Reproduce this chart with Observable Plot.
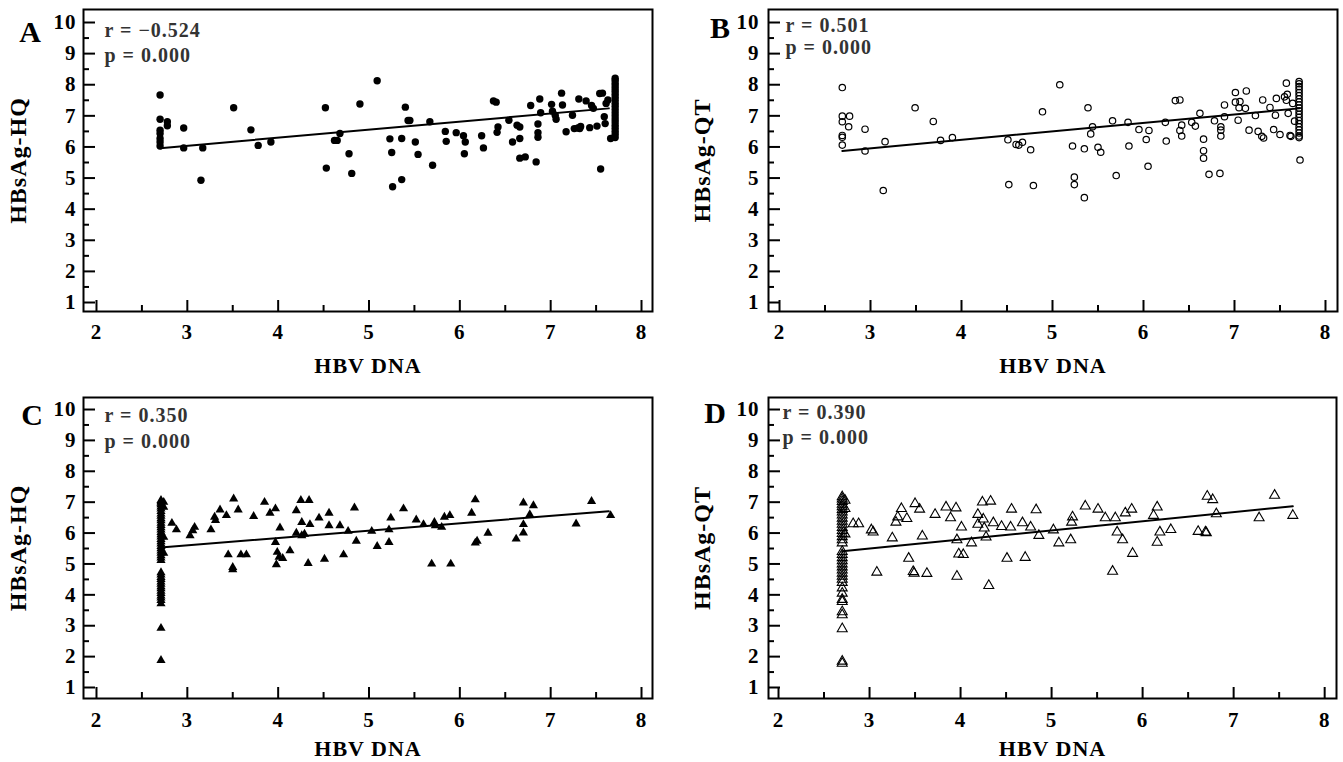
<!DOCTYPE html>
<html><head><meta charset="utf-8">
<script src="https://cdn.jsdelivr.net/npm/d3@7"></script>
<script src="https://cdn.jsdelivr.net/npm/@observablehq/plot@0.6"></script>
<style>
body{margin:0;background:#fff;}
#wrap{position:relative;width:1343px;height:762px;overflow:hidden;background:#fff;}
#wrap > svg{position:absolute;}
#wrap svg text{letter-spacing:1px;}
</style></head><body><div id="wrap"></div>
<script>
// ---------- data ----------
const xTicks = [2, 3, 4, 5, 6, 7, 8];
const xMinor = [2.5, 3.5, 4.5, 5.5, 6.5, 7.5];
const yTicks = [1, 2, 3, 4, 5, 6, 7, 8, 9, 10];
const yMinor = [1.5, 2.5, 3.5, 4.5, 5.5, 6.5, 7.5, 8.5, 9.5];
const xLabel = "HBV DNA";
const yLabels = ["HBsAg-HQ", "HBsAg-QT", "HBsAg-HQ", "HBsAg-QT"];
const panelLetters = ["A", "B", "C", "D"];
const rTexts = ["r = \u22120.524", "r = 0.501", "r = 0.350", "r = 0.390"];
const pTexts = ["p = 0.000", "p = 0.000", "p = 0.000", "p = 0.000"];

const pointsA = [[2.70,7.67],[2.70,6.89],[2.70,6.54],[2.70,6.43],[2.70,6.27],[2.70,6.16],[2.70,6.03],[2.78,6.81],[2.78,6.68],[2.96,6.61],[2.96,5.97],[3.17,5.97],[3.15,4.93],[3.51,7.26],[3.70,6.55],[3.78,6.05],[3.92,6.16],[4.52,7.26],[4.53,5.32],[4.62,6.21],[4.65,6.21],[4.68,6.43],[4.78,5.78],[4.81,5.15],[4.90,7.38],[5.09,8.13],[5.23,6.26],[5.25,5.82],[5.26,4.72],[5.36,6.27],[5.36,4.95],[5.40,7.28],[5.43,6.85],[5.45,6.85],[5.51,6.16],[5.54,5.76],[5.67,6.81],[5.70,5.41],[5.84,6.50],[5.85,6.18],[5.96,6.46],[6.04,6.36],[6.05,5.78],[6.06,6.16],[6.24,6.36],[6.26,5.97],[6.37,7.48],[6.40,7.44],[6.41,6.47],[6.42,6.64],[6.54,6.86],[6.58,6.16],[6.63,6.70],[6.66,6.64],[6.66,6.27],[6.66,5.64],[6.72,5.68],[6.78,7.33],[6.84,5.52],[6.86,6.74],[6.86,6.46],[6.86,6.31],[6.88,7.54],[6.89,7.10],[7.01,7.37],[7.02,7.15],[7.05,7.02],[7.06,6.89],[7.12,7.73],[7.13,7.35],[7.17,6.49],[7.24,7.02],[7.26,6.59],[7.30,6.61],[7.32,6.59],[7.31,7.54],[7.33,6.66],[7.39,7.48],[7.43,6.62],[7.45,7.33],[7.47,7.24],[7.51,6.67],[7.54,7.72],[7.57,7.73],[7.55,5.29],[7.59,6.97],[7.60,6.75],[7.61,7.40],[7.63,7.51],[7.66,6.27],
[7.71,8.21],[7.71,8.14],[7.71,8.05],[7.71,7.96],[7.71,7.87],[7.71,7.78],[7.71,7.69],[7.71,7.60],[7.71,7.50],[7.71,7.40],[7.71,7.30],[7.71,7.20],[7.71,7.10],[7.71,7.00],[7.71,6.90],[7.71,6.80],[7.71,6.70],[7.71,6.60],[7.71,6.50],[7.71,6.40],[7.71,6.30]];

const pointsB = [[2.69,7.91],[2.69,6.99],[2.69,6.81],[2.69,6.37],[2.69,6.31],[2.69,6.06],[2.77,6.99],[2.76,6.65],[2.94,6.57],[2.94,5.87],[3.16,6.17],[3.14,4.60],[3.49,7.26],[3.69,6.82],[3.77,6.21],[3.90,6.30],[4.51,6.23],[4.52,4.79],[4.60,6.08],[4.63,6.06],[4.67,6.15],[4.76,5.91],[4.79,4.76],[4.89,7.13],[5.08,8.00],[5.22,6.03],[5.24,5.03],[5.24,4.79],[5.35,5.94],[5.35,4.37],[5.39,7.26],[5.42,6.42],[5.44,6.65],[5.50,5.99],[5.53,5.83],[5.66,6.84],[5.70,5.08],[5.83,6.79],[5.84,6.03],[5.95,6.56],[6.03,6.24],[6.05,5.38],[6.06,6.53],[6.24,6.79],[6.25,6.19],[6.35,7.49],[6.40,7.51],[6.40,6.53],[6.42,6.70],[6.42,6.35],[6.53,6.79],[6.57,6.67],[6.62,7.08],[6.66,6.25],[6.66,5.88],[6.66,5.64],[6.72,5.12],[6.78,6.84],[6.84,5.15],[6.85,6.65],[6.85,6.54],[6.85,6.35],[6.89,7.35],[6.89,6.97],[7.01,7.75],[7.01,7.44],[7.06,7.46],[7.05,7.26],[7.04,6.86],[7.13,7.80],[7.12,7.24],[7.16,6.54],[7.23,7.01],[7.26,6.50],[7.30,6.34],[7.32,6.29],[7.31,7.51],[7.39,7.27],[7.43,6.56],[7.45,7.02],[7.46,7.56],[7.50,6.40],[7.55,7.61],[7.57,8.05],[7.57,7.50],[7.58,7.69],[7.59,7.08],[7.61,6.37],[7.62,6.34],[7.64,7.40],[7.66,6.83],[7.72,5.58],
[7.71,8.10],[7.71,8.03],[7.71,7.94],[7.71,7.85],[7.71,7.75],[7.71,7.65],[7.71,7.55],[7.71,7.45],[7.71,7.35],[7.71,7.25],[7.71,7.15],[7.71,7.05],[7.71,6.95],[7.71,6.85],[7.71,6.75],[7.71,6.65],[7.71,6.55],[7.71,6.45],[7.71,6.35],[7.71,6.30]];

const pointsC = [[2.71,7.06],[2.71,7.02],[2.71,6.97],[2.71,6.92],[2.71,6.85],[2.71,6.78],[2.71,6.70],[2.71,6.62],[2.71,6.55],[2.71,6.47],[2.71,6.40],[2.71,6.32],[2.71,6.25],[2.71,6.18],[2.71,6.10],[2.71,6.02],[2.71,5.95],[2.71,5.88],[2.71,5.80],[2.71,5.72],[2.71,5.65],[2.71,5.57],[2.71,5.50],[2.71,5.42],[2.71,5.35],[2.71,5.27],[2.71,5.20],[2.71,5.12],[2.71,4.72],[2.71,4.65],[2.71,4.57],[2.71,4.50],[2.71,4.42],[2.71,4.35],[2.71,4.27],[2.71,4.20],[2.71,4.12],[2.71,4.05],[2.71,3.97],[2.71,3.90],[2.71,3.82],[2.71,3.72],[2.71,2.92],[2.71,1.88],
[2.74,7.00],[2.74,6.84],[2.74,5.87],[2.74,5.35],[2.83,6.32],[2.88,6.11],[3.03,5.92],[3.06,6.08],[3.08,6.19],[3.26,6.11],[3.30,6.52],[3.31,6.41],[3.36,6.75],[3.43,6.57],[3.45,5.30],[3.50,4.82],[3.50,4.89],[3.51,7.11],[3.56,6.75],[3.59,5.30],[3.65,5.30],[3.73,6.54],[3.85,7.00],[3.91,6.65],[3.97,6.79],[3.97,5.70],[3.98,4.98],[3.99,5.38],[4.01,5.22],[4.02,6.17],[4.05,5.18],[4.13,5.43],[4.20,6.73],[4.20,6.00],[4.25,7.06],[4.34,7.06],[4.26,6.35],[4.26,5.92],[4.29,5.97],[4.33,5.02],[4.35,6.28],[4.45,6.49],[4.51,5.16],[4.56,6.65],[4.56,6.24],[4.68,6.24],[4.72,5.30],[4.77,6.06],[4.84,6.82],[4.86,5.74],[5.03,6.06],[5.09,5.57],[5.22,5.70],[5.22,6.11],[5.24,6.49],[5.38,6.79],[5.52,6.43],[5.60,6.28],[5.69,5.00],[5.72,6.35],[5.73,6.24],[5.80,6.19],[5.83,6.52],[5.89,6.57],[5.90,5.00],[6.13,6.65],[6.17,7.08],[6.17,5.68],[6.19,5.74],[6.31,6.00],[6.62,5.81],[6.70,6.28],[6.70,6.01],[6.70,6.98],[6.77,6.60],[6.81,6.89],[7.28,6.30],[7.45,7.03],[7.66,6.57]];

const pointsD = [[2.70,7.17],[2.70,7.10],[2.70,7.02],[2.70,6.93],[2.70,6.85],[2.70,6.76],[2.70,6.68],[2.70,6.58],[2.70,6.48],[2.70,6.38],[2.70,6.28],[2.70,6.18],[2.70,6.08],[2.70,5.98],[2.70,5.88],[2.70,5.78],[2.70,5.68],[2.70,5.40],[2.70,5.30],[2.70,5.20],[2.70,5.10],[2.70,5.00],[2.70,4.90],[2.70,4.80],[2.70,4.70],[2.70,4.60],[2.70,4.50],[2.70,4.40],[2.70,4.22],[2.70,4.05],[2.70,3.85],[2.70,3.78],[2.70,3.45],[2.70,3.35],[2.70,2.90],[2.70,1.85],[2.70,1.78],
[2.73,7.06],[2.73,6.79],[2.73,5.97],[2.82,6.30],[2.88,6.30],[3.02,6.10],[3.04,6.03],[3.08,4.73],[3.25,5.84],[3.29,6.35],[3.31,6.52],[3.35,6.79],[3.41,6.47],[3.43,5.18],[3.48,4.75],[3.49,4.70],[3.50,6.95],[3.55,6.77],[3.58,5.90],[3.63,4.69],[3.72,6.60],[3.84,6.84],[3.89,6.49],[3.95,6.81],[3.96,5.78],[3.96,4.60],[3.98,5.32],[4.03,5.30],[4.01,6.19],[4.12,5.68],[4.19,6.28],[4.19,6.60],[4.24,7.00],[4.25,6.45],[4.26,6.16],[4.28,5.87],[4.31,4.30],[4.33,7.03],[4.36,6.33],[4.45,6.21],[4.51,5.18],[4.55,6.19],[4.56,6.77],[4.68,6.33],[4.71,5.21],[4.77,6.19],[4.83,6.75],[4.86,5.92],[5.02,6.10],[5.08,5.68],[5.21,5.78],[5.22,6.35],[5.23,6.52],[5.37,6.87],[5.51,6.77],[5.59,6.49],[5.67,4.76],[5.70,6.49],[5.72,6.03],[5.78,5.78],[5.81,6.65],[5.88,6.77],[5.89,5.34],[6.12,6.57],[6.16,6.84],[6.16,5.70],[6.19,6.03],[6.31,6.11],[6.61,6.05],[6.69,6.03],[6.70,6.01],[6.71,7.19],[6.77,7.08],[6.81,6.62],[7.28,6.49],[7.45,7.22],[7.65,6.57]];

const fitA = [[2.70, 5.96], [7.64, 7.24]];
const fitB = [[2.69, 5.87], [7.71, 7.24]];
const fitC = [[2.74, 5.54], [7.64, 6.71]];
const fitD = [[2.70, 5.41], [7.65, 6.87]];

// ---------- layout ----------
const panels = [
  {pts: pointsA, fit: fitA, i: 0, dot: {r: 3.7, fill: "#000", stroke: "none"},
   left: 0, top: 0, width: 670, height: 380, mL: 83, mR: 18, mT: 9, mB: 69,
   xd: [1.857, 8.121], yd: [0.711, 10.418],
   letter: [-53, 23], rPos: [21, 21], pPos: [21, 46], xt: 21, xl: 54, yt: 7, yl: -65},
  {pts: pointsB, fit: fitB, i: 1, dot: {r: 3.2, fill: "none", stroke: "#000", strokeWidth: 1.2},
   left: 670, top: 0, width: 673, height: 380, mL: 98, mR: 6, mT: 9, mB: 69,
   xd: [1.879, 8.132], yd: [0.711, 10.418],
   letter: [-48, 19], rPos: [17, 16], pPos: [17, 38], xt: 21, xl: 54, yt: 9, yl: -66},
  {pts: pointsC, fit: fitC, i: 2, dot: {r: 3.4, symbol: "triangle", fill: "#000", stroke: "none"},
   left: 0, top: 380, width: 670, height: 382, mL: 83, mR: 18, mT: 17, mB: 64,
   xd: [1.857, 8.121], yd: [0.644, 10.389],
   letter: [-51, 18], rPos: [21, 18], pPos: [21, 44], xt: 22, xl: 50, yt: 7, yl: -65},
  {pts: pointsD, fit: fitD, i: 3, dot: {r: 3.7, symbol: "triangle", fill: "none", stroke: "#000", strokeWidth: 1.1},
   left: 670, top: 380, width: 673, height: 382, mL: 98, mR: 7, mT: 17, mB: 64,
   xd: [1.89, 8.13], yd: [0.644, 10.389],
   letter: [-53, 16], rPos: [14, 15], pPos: [14, 40], xt: 22, xl: 50, yt: 9, yl: -66}
];

const wrap = document.getElementById("wrap");
for (const c of panels) {
  const W = c.width - c.mL - c.mR, H = c.height - c.mT - c.mB;
  const svg = Plot.plot({
    width: c.width, height: c.height,
    marginLeft: c.mL, marginRight: c.mR, marginTop: c.mT, marginBottom: c.mB,
    style: {fontFamily: "Liberation Serif, serif", fontWeight: "bold", color: "#000", background: "transparent", overflow: "visible"},
    x: {domain: c.xd, axis: null},
    y: {domain: c.yd, axis: null},
    marks: [
      Plot.tickX(xTicks, {x: d => d, insetTop: H - 11, stroke: "#000", strokeWidth: 2}),
      Plot.tickX(xMinor, {x: d => d, insetTop: H - 6, stroke: "#000", strokeWidth: 2}),
      Plot.tickY(yTicks, {y: d => d, insetRight: W - 12, stroke: "#000", strokeWidth: 2}),
      Plot.tickY(yMinor, {y: d => d, insetRight: W - 6, stroke: "#000", strokeWidth: 2}),
      Plot.frame({stroke: "#000", strokeWidth: 2}),
      Plot.text(xTicks, {x: d => d, text: d => String(d), frameAnchor: "bottom", dy: c.xt, lineAnchor: "middle", fontSize: 21, fill: "#000"}),
      Plot.text(yTicks, {y: d => d, text: d => String(d), frameAnchor: "left", dx: -c.yt, textAnchor: "end", lineAnchor: "middle", fontSize: 21, fill: "#000"}),
      Plot.text([xLabel], {text: d => d, frameAnchor: "bottom", dy: c.xl, lineAnchor: "middle", fontSize: 22, fill: "#000"}),
      Plot.text([yLabels[c.i]], {text: d => d, frameAnchor: "left", dx: c.yl, rotate: -90, textAnchor: "middle", lineAnchor: "middle", fontSize: 24, fill: "#000"}),
      Plot.text([panelLetters[c.i]], {text: d => d, frameAnchor: "top-left", dx: c.letter[0], dy: c.letter[1], textAnchor: "middle", lineAnchor: "middle", fontSize: 30, fill: "#000"}),
      Plot.text([rTexts[c.i]], {text: d => d, frameAnchor: "top-left", dx: c.rPos[0], dy: c.rPos[1], textAnchor: "start", lineAnchor: "middle", fontSize: 20, fill: "#333"}),
      Plot.text([pTexts[c.i]], {text: d => d, frameAnchor: "top-left", dx: c.pPos[0], dy: c.pPos[1], textAnchor: "start", lineAnchor: "middle", fontSize: 20, fill: "#333"}),
      Plot.line(c.fit, {x: d => d[0], y: d => d[1], stroke: "#000", strokeWidth: 2}),
      Plot.dot(c.pts, {x: d => d[0], y: d => d[1], ...c.dot})
    ]
  });
  svg.style.left = c.left + "px";
  svg.style.top = c.top + "px";
  wrap.appendChild(svg);
}
</script></body></html>
